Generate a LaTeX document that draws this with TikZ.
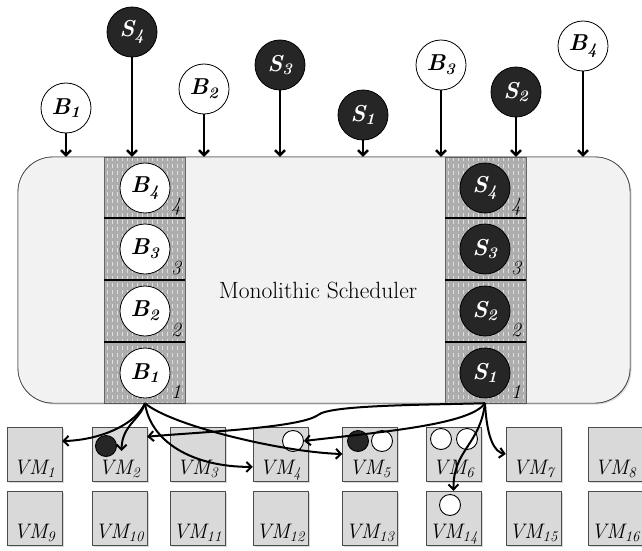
\documentclass[tikz,border=0pt]{standalone}
\usepackage{fontspec}
\usepackage{tikz}
\usetikzlibrary{arrows.meta,shadows}

\tikzset{
  job/.style={circle, draw=black, line width=0.8pt, minimum size=50pt, inner sep=0pt,
    font=\fontsize{23}{26}\selectfont\bfseries\itshape},
  bjob/.style={job, fill=white},
  sjob/.style={job, fill=black!85, text=white},
  slot/.style={inner sep=0pt, font=\fontsize{20}{22}\selectfont\itshape},
  sched/.style={draw=black!80, fill=black!5, rounded corners=35pt, minimum width=612pt,
    minimum height=246pt, drop shadow={opacity=0.3, shadow xshift=1.5pt, shadow yshift=-1.5pt}},
  vm/.style={draw=black!70, fill=black!15, minimum width=55pt, minimum height=54pt,
    inner sep=0pt, text height=40pt, text depth=0pt, font=\fontsize{21}{23}\selectfont\itshape,
    drop shadow={opacity=0.3, shadow xshift=1.5pt, shadow yshift=-1.5pt}},
  task/.style={circle, draw=black, line width=0.9pt, minimum size=21pt, inner sep=0pt},
  feed/.style={line width=2.4pt, -{Straight Barb[length=5pt,width=10pt]}},
  place/.style={line width=2pt, -{Straight Barb[length=5pt,width=10pt]}},
}

\begin{document}
\begin{tikzpicture}[x=1pt,y=-1pt]
  \useasboundingbox (0,0) rectangle (642,551);

  % Scheduler body
  \node[sched] (sched) at (324,280) {};

  % Queues
  \foreach \qx in {104,445} {
    \begin{scope}
      \clip (\qx,157) rectangle ++(81,246);
      \fill[black!32] (\qx,157) rectangle ++(81,246);
      \foreach \dx in {3,8,...,78}
        \draw[white, opacity=0.6, line width=0.8pt, dash pattern=on 4pt off 3pt] (\qx+\dx,157) -- ++(0,246);
    \end{scope}
    \draw[black!60] (\qx,157) rectangle ++(81,246);
    \foreach \dy in {218,280,342}
      \draw[line width=2pt] (\qx,\dy) -- ++(81,0);
  }
  \draw[black!80, rounded corners=35pt] (sched.north west) rectangle (sched.south east);

  \node[font=\fontsize{23.5}{26}\selectfont] (title) at (318,290) {Monolithic Scheduler};

  \foreach \i/\y in {1/373,2/311,3/249,4/188} {
    \node[bjob] (qb\i) at (145,\y) {B\textsubscript{\i}};
    \node[sjob] (qs\i) at (485,\y) {S\textsubscript{\i}};
    \node[slot] (nb\i) at (176,\y+19) {\i};
    \node[slot] (ns\i) at (516,\y+19) {\i};
  }

  % Incoming jobs
  \foreach \n/\s/\l/\k/\x/\y in {b1/bjob/B/1/66/108, s4/sjob/S/4/132/32, b2/bjob/B/2/204/89,
      s3/sjob/S/3/280/65, s1/sjob/S/1/363/115, b3/bjob/B/3/441/65,
      s2/sjob/S/2/516/92, b4/bjob/B/4/583/46} {
    \node[\s] (\n) at (\x,\y) {\l\textsubscript{\k}};
    \draw[feed] (\n) -- (\n |- sched.north);
  }

  % Machines
  \foreach \i/\x in {1/34.5,2/119.5,3/197.5,4/280.5,5/370,6/453.5,7/533.5,8/615.5} {
    \pgfmathtruncatemacro\j{\i+8}
    \node[vm] (vm\i) at (\x,454) {VM\textsubscript{\i}};
    \node[vm] (vm\j) at (\x,518) {VM\textsubscript{\j}};
  }

  % Running tasks
  \node[task, fill=black!85] (t2) at (106,446) {};
  \node[task, fill=white] (t4) at (293,441) {};
  \node[task, fill=black!85] (t5a) at (358,441) {};
  \node[task, fill=white] (t5b) at (382,441) {};
  \node[task, fill=white] (t6a) at (441,439) {};
  \node[task, fill=white] (t6b) at (467,439) {};
  \node[task, fill=white] (t14) at (450,505) {};

  % Placements
  \coordinate (bout) at (qb1 |- sched.south);
  \coordinate (sout) at (qs1 |- sched.south);
  \draw[place] (bout) .. controls (135,425) and (100,440) .. (vm1.25);
  \draw[place] (bout) .. controls (140,420) and (122,425) .. ([shift={(2,-3)}]vm2.center);
  \draw[place] (bout) .. controls (150,440) and (190,467) .. (vm4.205);
  \draw[place] (bout) .. controls (170,425) and (280,452) .. (vm5.west);
  \draw[place] (sout) .. controls (420,405) and (330,405) .. (318,415)
    .. controls (300,428) and (200,432) .. (vm2.32);
  \draw[place] (sout) .. controls (470,425) and (380,432) .. (t4.east);
  \draw[place] (sout) .. controls (480,445) and (453,450) .. (vm14.north);
  \draw[place] (sout) .. controls (487,440) and (495,452) .. (vm7.west);
\end{tikzpicture}
\end{document}
